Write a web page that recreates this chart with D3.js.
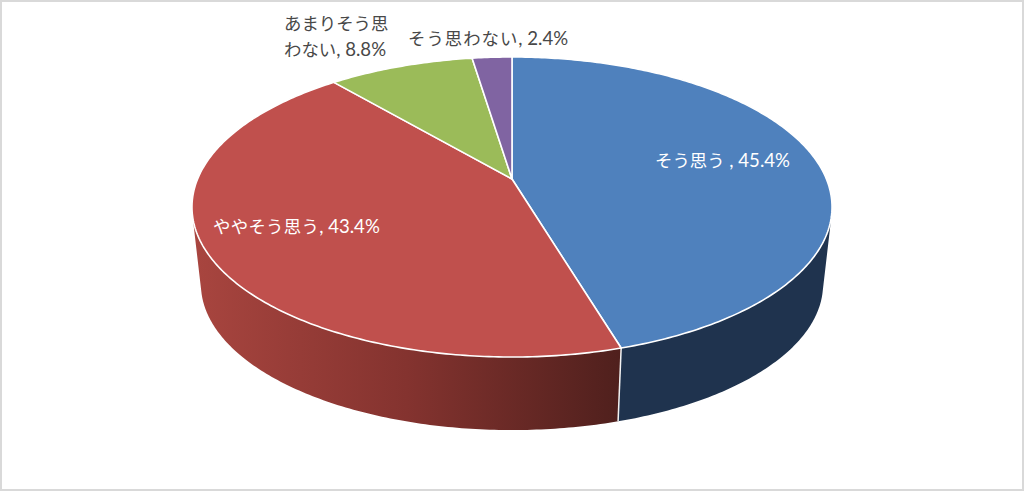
<!DOCTYPE html>
<html>
<head>
<meta charset="utf-8">
<title>3D pie</title>
<script src="https://cdn.jsdelivr.net/npm/d3@7"></script>
<style>
html, body { margin: 0; padding: 0; background: #fff; }
svg { display: block; }
text { font-family: Lato, "Noto Sans CJK JP", sans-serif; font-size: 18.6px; white-space: pre; }
.cjk { font-size: 17.4px; }
</style>
</head>
<body>
<div id="chart"></div>
<script>
var categories = ["そう思う", "ややそう思う", "あまりそう思わない", "そう思わない"];
var values = [45.4, 43.4, 8.8, 2.4];
var labelLines = [
    ["そう思う , 45.4%"],
    ["ややそう思う, 43.4%"],
    ["あまりそう思", "わない, 8.8%"],
    ["そう思わない, 2.4%"]
];

var w = 1024, h = 491;

// layout, kept apart from the data
var topColors = ["#4f81bd", "#c0504d", "#9bbb59", "#8064a2"];
var labelColors = ["#fff", "#fff", "#484848", "#484848"];
var labelX = [655, 213, 284, 408];
var labelY = [167, 233, 30, 45];
var labelSpacing = [0, 0.3, 0, 1]; // extra px between kana, the original font is wider in places

// perspective disc: apex at (cx, cy), k is the foreshortening
var cx = 512, k = 0.1867, rx = 314.4, ry = 144.8;
var topPlane = { cy: 179, s: 1 };
var bottomPlane = { cy: 257, s: 0.972 };
// the wall edges all run towards this point
var vanishY = topPlane.cy + (bottomPlane.cy - topPlane.cy) / (1 - bottomPlane.s);

function project(plane, a) {
    var d = 1 + k * Math.cos(a);
    return [cx + plane.s * rx * Math.sin(a) / d,
            plane.cy - plane.s * ry * Math.cos(a) / d];
}

function samples(a0, a1) {
    var n = Math.max(2, Math.ceil((a1 - a0) * 80));
    return d3.range(n + 1).map(function(i) { return a0 + (a1 - a0) * i / n; });
}

// where the wall leaves the rim: the rim points furthest out as seen from the vanishing point
function spread(a) {
    var p = project(topPlane, a);
    return (p[0] - cx) / (vanishY - p[1]);
}
var tangents = samples(0, 2 * Math.PI);
var rightTangent = d3.greatest(tangents, function(a) { return spread(a); });
var leftTangent = d3.least(tangents, function(a) { return spread(a); });

var pie = d3.pie().sort(null)(values);
var line = d3.line();

var svg = d3.select("#chart").append("svg")
    .attr("width", w)
    .attr("height", h);

svg.append("rect")
    .attr("x", 1).attr("y", 1)
    .attr("width", w - 2).attr("height", h - 2)
    .attr("fill", "#fff")
    .attr("stroke", "#d9d9d9")
    .attr("stroke-width", 2);

var defs = svg.append("defs");
var grad = defs.append("linearGradient")
    .attr("id", "redSide")
    .attr("gradientUnits", "userSpaceOnUse")
    .attr("x1", 195).attr("x2", 618).attr("y1", 0).attr("y2", 0);
grad.append("stop").attr("offset", 0).attr("stop-color", "#a8453f");
grad.append("stop").attr("offset", 0.5).attr("stop-color", "#84332f");
grad.append("stop").attr("offset", 1).attr("stop-color", "#50201d");

// side walls: only the blue and red slices reach the front
var seam = pie[0].endAngle;
var wallRanges = [[rightTangent, seam], [seam, leftTangent]];
svg.selectAll("path.side")
    .data(wallRanges)
    .enter()
    .append("path")
    .attr("class", "side")
    .attr("fill", function(d, i) { return i == 0 ? "#1f334e" : "url(#redSide)"; })
    .attr("d", function(d) {
        var as = samples(d[0], d[1]);
        var pts = as.map(function(a) { return project(topPlane, a); })
            .concat(as.slice().reverse().map(function(a) { return project(bottomPlane, a); }));
        return line(pts) + "Z";
    });

// seam between blue and red
svg.append("path")
    .attr("fill", "none")
    .attr("stroke", "#f2f2f2")
    .attr("stroke-width", 1.5)
    .attr("d", line([project(topPlane, seam), project(bottomPlane, seam)]));

// top face
svg.selectAll("path.slice")
    .data(pie)
    .enter()
    .append("path")
    .attr("class", "slice")
    .attr("fill", function(d, i) { return topColors[i]; })
    .attr("stroke", "#fff")
    .attr("stroke-width", 1.6)
    .attr("stroke-linejoin", "round")
    .attr("d", function(d) {
        var pts = samples(d.startAngle, d.endAngle).map(function(a) { return project(topPlane, a); });
        return line([[cx, topPlane.cy]].concat(pts)) + "Z";
    });

// labels: the kana and kanji run a little smaller than the digits
labelLines.forEach(function(lines, i) {
    lines.forEach(function(txt, j) {
        var runs = txt.split(/([\u3040-\u9fff]+)/).filter(function(r) { return r != ""; });
        svg.append("text")
            .attr("x", labelX[i])
            .attr("y", labelY[i] + j * 26)
            .attr("fill", labelColors[i])
            .selectAll("tspan")
            .data(runs)
            .enter()
            .append("tspan")
            .attr("class", function(r) { return /[\u3040-\u9fff]/.test(r) ? "cjk" : null; })
            .attr("letter-spacing", function(r) { return /[\u3040-\u9fff]/.test(r) ? labelSpacing[i] : null; })
            .text(function(r) { return r; });
    });
});
</script>
</body>
</html>
